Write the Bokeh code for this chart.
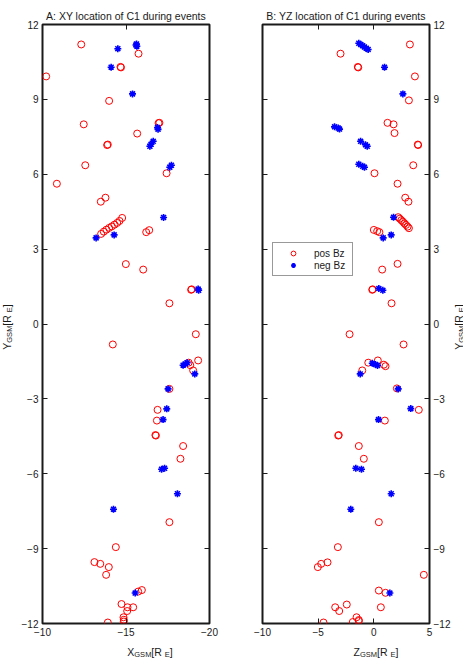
import math
from bokeh.plotting import figure
from bokeh.models import Range1d, FixedTicker, LinearAxis, Label, Legend, LegendItem
from bokeh.layouts import row, column
from bokeh.embed import file_html
from bokeh.resources import INLINE

# Spacecraft C1 positions (Earth radii, GSM) during positive / negative Bz events
xy_pos_x = [-12.32, -15.75, -14.67, -14.70, -10.22, -13.99, -12.47, -17.00, -16.95, -15.67,
            -13.91, -13.87, -12.56, -17.43, -10.86, -13.77, -13.49,
            -13.51, -13.67, -13.83, -13.99, -14.15, -14.31, -14.47, -14.61, -14.77,
            -16.21, -16.39, -14.99, -16.03, -18.90, -18.93, -17.60, -14.21, -19.18, -19.32,
            -18.75, -18.85, -19.02, -17.60, -16.89, -16.85, -16.79, -16.76, -18.42, -18.26,
            -17.60, -14.39, -13.11, -13.46, -13.97, -13.81, -15.73, -15.95, -14.73,
            -15.09, -15.07, -15.43, -14.85, -14.87, -14.87, -13.91]
xy_pos_y = [11.20, 10.83, 10.30, 10.28, 9.92, 8.94, 8.00, 8.06, 8.05, 7.63,
            7.19, 7.17, 6.36, 6.04, 5.62, 5.06, 4.90,
            3.61, 3.70, 3.78, 3.85, 3.91, 3.98, 4.05, 4.13, 4.25,
            3.68, 3.76, 2.40, 2.18, 1.37, 1.39, 0.83, -0.82, -0.41, -1.46,
            -1.55, -1.65, -1.86, -2.60, -3.44, -3.87, -4.47, -4.45, -4.89, -5.40,
            -7.94, -8.94, -9.54, -9.61, -9.74, -10.05, -10.72, -10.66, -11.22,
            -11.35, -11.50, -11.35, -11.75, -11.85, -11.92, -11.96]

xy_neg_x = [-14.51, -15.63, -15.65, -15.60, -14.11, -15.39, -16.89, -16.92, -16.63, -16.50,
            -16.43, -17.72, -17.62, -17.25, -13.21, -14.29, -19.32, -19.35, -18.42, -18.55,
            -18.66, -19.12, -17.52, -17.44, -17.22, -17.13, -17.31, -18.08, -14.25, -15.55]
xy_neg_y = [11.03, 11.22, 11.13, 11.18, 10.29, 9.22, 7.87, 7.80, 7.32, 7.20,
            7.12, 6.36, 6.28, 4.27, 3.45, 3.57, 1.40, 1.35, -1.65, -1.60,
            -1.55, -2.00, -2.60, -3.40, -3.83, -5.82, -5.78, -6.80, -7.42, -10.78]

yz_pos_z = [3.24, -2.99, -1.44, -1.40, 3.69, 3.15, 1.23, 1.77, 1.86, 3.95, 3.98, 3.54, 0.06,
            2.13, 2.82, 3.11,
            2.19, 2.33, 2.47, 2.61, 2.75, 2.89, 3.03, 3.15,
            0.00, 0.30, 0.50, 2.13, 0.75, -0.14, -0.11, 1.59, -2.18, 2.67,
            -0.50, 0.36, 0.90, 1.05, -1.04, 2.07, 4.04, 0.99, -3.20, -3.15, -1.35, -0.90,
            0.45, -3.23, -5.03, -4.73, -4.16, 4.49, 0.45, 1.05, -2.43, -3.47, -3.11, 0.63,
            -1.55, -1.35, -1.35, -1.89, -4.52]
yz_pos_y = [11.20, 10.83, 10.30, 10.28, 9.92, 8.96, 8.06, 8.00, 7.65, 7.19, 7.17, 6.36, 6.04,
            5.62, 5.06, 4.90,
            4.28, 4.22, 4.16, 4.10, 4.03, 3.97, 3.90, 3.84,
            3.77, 3.72, 3.68, 2.41, 2.18, 1.37, 1.39, 0.83, -0.41, -0.82,
            -1.55, -1.46, -1.63, -1.69, -1.86, -2.58, -3.44, -3.87, -4.47, -4.45, -4.89, -5.40,
            -7.94, -8.94, -9.74, -9.61, -9.55, -10.05, -10.68, -10.77, -11.24, -11.35, -11.50, -11.35,
            -11.75, -11.86, -11.90, -11.94, -11.96]

yz_neg_z = [-1.35, -1.18, -1.01, -0.85, -0.68, -0.51, 0.96, 2.61, -3.53, -3.08, -3.20,
            -1.19, -0.59, -0.75, -1.35, -0.84, -1.00, 1.77, 0.84, 1.56, 0.45, 0.81,
            -0.14, 0.15, 0.33, -1.22, 2.19, 3.32, 0.42, -1.62, -1.11, 1.56, -2.07, 1.44]
yz_neg_y = [11.25, 11.20, 11.15, 11.10, 11.05, 11.00, 10.29, 9.22, 7.90, 7.81, 7.85,
            7.32, 7.12, 7.18, 6.40, 6.28, 6.32, 4.28, 3.45, 3.57, 1.42, 1.35,
            -1.57, -1.62, -1.66, -2.00, -2.60, -3.39, -3.83, -5.78, -5.82, -6.80, -7.42, -10.78]

y_ticks = [-12, -9, -6, -3, 0, 3, 6, 9, 12]
x_ticks = [-10, -15, -20]
z_ticks = [-10, -5, 0, 5]

FONT = "Liberation Sans"
INK = "#1a1a1a"
POS_COLOR = "#ff0000"
NEG_COLOR = "#0000ff"

# approximate Helvetica/Arial advance widths (em) for label layout
ADV = {"X": .667, "Y": .667, "Z": .611, "G": .778, "S": .667, "M": .833,
       " ": .278, "[": .278, "]": .278, "R": .722, "E": .667}

FRAME_W, FRAME_H = 167, 599
TOP, BOTTOM = 24, 18          # plot borders above / below the frames
STRIP_H = 18                  # strip carrying the x-axis titles
LEFT_STRIP_W = 18             # strip carrying the left y-axis title
RIGHT_STRIP_W = 13            # strip carrying the right y-axis title
SUB_SHIFT = 2.5               # subscript drop (centre to centre), px


def minus(v):
    return ("\u2212" + str(abs(v))) if v < 0 else str(v)


def make_axis(ticks, show_labels):
    ax = LinearAxis(ticker=FixedTicker(ticks=ticks))
    ax.axis_line_color = None
    ax.axis_label_standoff = 0
    ax.major_tick_in = 5
    ax.major_tick_out = 0
    ax.major_tick_line_color = INK
    ax.major_tick_line_width = 1
    ax.minor_tick_line_color = None
    ax.major_label_standoff = 4
    ax.major_label_text_font = FONT
    ax.major_label_text_color = INK
    if show_labels:
        ax.major_label_text_font_size = "10px"
        ax.major_label_overrides = {t: minus(t) for t in ticks}
    else:
        ax.major_label_text_font_size = "0px"
        ax.major_label_text_alpha = 0
    return ax


def make_fig(x_range, border_left, border_right, title_text):
    p = figure(frame_width=FRAME_W, frame_height=FRAME_H,
               min_border_left=border_left, min_border_right=border_right,
               min_border_top=TOP, min_border_bottom=BOTTOM,
               x_range=x_range, y_range=Range1d(-12, 12),
               x_axis_location=None, y_axis_location=None,
               title=title_text,
               output_backend="svg", toolbar_location=None)
    p.title.align = "center"
    p.title.text_font = FONT
    p.title.text_font_size = "10.5px"
    p.title.text_font_style = "normal"
    p.title.text_color = INK
    p.title.standoff = 6
    p.xgrid.visible = False
    p.ygrid.visible = False
    p.outline_line_color = INK
    p.outline_line_width = 2
    p.background_fill_color = "white"
    p.border_fill_color = "white"
    return p


def strip(w, h):
    """Blank pixel-scaled canvas that only carries text."""
    s = figure(frame_width=w, frame_height=h, min_border=0, title=None,
               x_range=Range1d(0, w), y_range=Range1d(0, h),
               x_axis_location=None, y_axis_location=None,
               output_backend="svg", toolbar_location=None)
    s.xgrid.visible = False
    s.ygrid.visible = False
    s.outline_line_color = None
    s.background_fill_color = "white"
    s.border_fill_color = "white"
    return s


def sub_label(p, x, y, pieces, vertical=False):
    """Axis title built from (text, is_subscript) pieces; (x, y) is the centre
    of the main-size text line."""
    main, small = 10.5, 7.5
    widths = [sum(ADV[c] for c in t) * (small if s else main) for t, s in pieces]
    cur = -sum(widths) / 2
    for (t, s), w in zip(pieces, widths):
        size = small if s else main
        shift = SUB_SHIFT if s else 0.0
        if vertical:
            lab = Label(x=x, y=y, x_offset=shift, y_offset=cur, angle=math.pi / 2, text=t)
        else:
            lab = Label(x=x, y=y, x_offset=cur, y_offset=-shift, text=t)
        lab.text_font = FONT
        lab.text_font_size = f"{size}px"
        lab.text_color = INK
        lab.text_align = "left"
        lab.text_baseline = "middle"
        p.add_layout(lab)
        cur += w


def pieces(letter):
    return [(letter, False), ("GSM", True), (" [R", False), ("E", True), ("]", False)]


# ---- panel A: XY plane (X axis reversed, tailward to the right)
A_LEFT, A_RIGHT = 24, 23
pa = make_fig(Range1d(-10, -20), A_LEFT, A_RIGHT, "A: XY location of C1 during events")
pa.add_layout(make_axis(x_ticks, True), "below")
pa.add_layout(make_axis(x_ticks, False), "above")
pa.add_layout(make_axis(y_ticks, True), "left")
pa.add_layout(make_axis(y_ticks, False), "right")

pa.scatter(xy_pos_x, xy_pos_y, marker="circle", size=7, fill_color=None,
           line_color=POS_COLOR, line_width=1)
pa.scatter(xy_neg_x, xy_neg_y, marker="asterisk", size=7,
           line_color=NEG_COLOR, line_width=1.6)

# ---- panel B: YZ plane
B_LEFT, B_RIGHT = 30, 21
pb = make_fig(Range1d(-10, 5), B_LEFT, B_RIGHT, "B: YZ location of C1 during events")
pb.add_layout(make_axis(z_ticks, True), "below")
pb.add_layout(make_axis(z_ticks, False), "above")
pb.add_layout(make_axis(y_ticks, False), "left")
pb.add_layout(make_axis(y_ticks, True), "right")

rp = pb.scatter(yz_pos_z, yz_pos_y, marker="circle", size=7, fill_color=None,
                line_color=POS_COLOR, line_width=1)
rn = pb.scatter(yz_neg_z, yz_neg_y, marker="asterisk", size=7,
                line_color=NEG_COLOR, line_width=1.6)

legend = Legend(items=[LegendItem(label="pos Bz", renderers=[rp]),
                       LegendItem(label="neg Bz", renderers=[rn])],
                location=(10, 347))
legend.border_line_color = "#333333"
legend.border_line_width = 1
legend.background_fill_color = "white"
legend.background_fill_alpha = 1
legend.label_text_font = FONT
legend.label_text_font_size = "10px"
legend.label_text_color = INK
legend.padding = 4
legend.spacing = 0
legend.margin = 0
legend.glyph_width = 32
legend.glyph_height = 12
legend.label_height = 12
legend.label_width = 34
legend.label_standoff = 5
pb.add_layout(legend, "center")

# ---- text strips: y titles at both sides, x titles under each panel
total_h = TOP + FRAME_H + BOTTOM + STRIP_H
mid_y = total_h - (TOP + FRAME_H / 2) - 3      # a little below the frame centre

ly = strip(LEFT_STRIP_W, total_h)
sub_label(ly, 6.5, mid_y, pieces("Y"), vertical=True)

ry = strip(RIGHT_STRIP_W, total_h)
sub_label(ry, 5.5, mid_y, pieces("Y"), vertical=True)

a_w = A_LEFT + FRAME_W + A_RIGHT
xa = strip(a_w, STRIP_H)
sub_label(xa, A_LEFT + FRAME_W / 2, 8, pieces("X"))

b_w = B_LEFT + FRAME_W + B_RIGHT
xb = strip(b_w, STRIP_H)
sub_label(xb, B_LEFT + FRAME_W / 2, 8, pieces("Z"))

layout = row(ly, column(pa, xa), column(pb, xb), ry)
open("out.html", "w").write(file_html(layout, INLINE))
